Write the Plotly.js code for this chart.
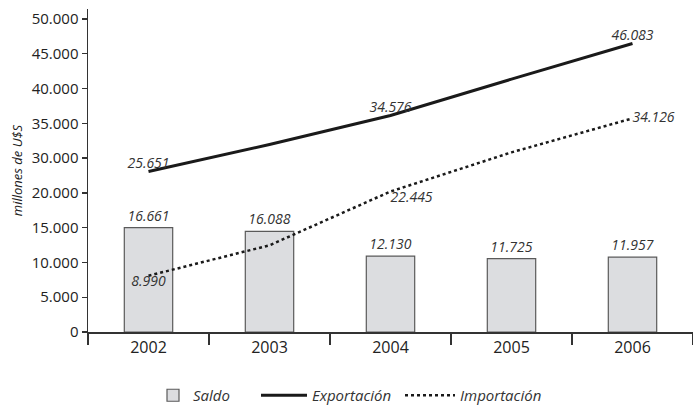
<!DOCTYPE html>
<html>
<head>
<meta charset="utf-8">
<script src="https://cdn.plot.ly/plotly-3.0.1.min.js"></script>
<style>html,body{margin:0;padding:0;background:#fff;}#chart{width:693px;height:412px;}</style>
</head>
<body>
<div id="chart"></div>
<script>
var years = ['2002', '2003', '2004', '2005', '2006'];
var saldo = [16661, 16088, 12130, 11725, 11957];
var saldoLabels = ['16.661', '16.088', '12.130', '11.725', '11.957'];
var exportacion = [25651, 29950, 34576, 40400, 46083];
var exportLabels = ['25.651', '', '34.576', '', '46.083'];
var importacion = [8990, 13850, 22445, 28700, 34126];
var importLabels = ['8.990', '', '22.445', '', '34.126'];
var yTickLabels = ['0', '5.000', '10.000', '15.000', '20.000', '30.000', '35.000', '40.000', '45.000', '50.000'];
var yTickValues = yTickLabels.map(function (_, i) { return i * 50000 / 9; });

var FONT = 'Open Sans, Noto Sans, sans-serif';
var labelFont = {family: FONT, size: 14, color: '#333', style: 'italic'};
var legendFont = {family: FONT, size: 15, color: '#333', style: 'italic'};

var traces = [
  {
    type: 'bar', name: 'Saldo', x: years, y: saldo, width: 0.4, legend: 'legend',
    marker: {color: '#dcdde0', line: {color: '#5a5a5a', width: 1.2}},
    text: saldoLabels, textposition: 'outside', constraintext: 'none', cliponaxis: false,
    textfont: labelFont, hoverinfo: 'skip'
  },
  {
    type: 'scatter', mode: 'lines+text', name: 'Exportación', x: years, y: exportacion, legend: 'legend2',
    line: {color: '#1a1a1a', width: 3},
    text: exportLabels,
    textposition: ['top center', 'top center', 'top center', 'top center', 'top center'],
    textfont: labelFont, cliponaxis: false, hoverinfo: 'skip'
  },
  {
    type: 'scatter', mode: 'lines+text', name: 'Importación', x: years, y: importacion, legend: 'legend3',
    line: {color: '#1a1a1a', width: 2.5, dash: 'dot'},
    text: importLabels,
    textposition: ['bottom center', 'bottom center', 'bottom right', 'middle right', 'middle right'],
    textfont: labelFont, cliponaxis: false, hoverinfo: 'skip'
  }
];

function legendAt(px, iw) {
  return {
    orientation: 'h', x: (px - 88) / 605, xanchor: 'left', y: -0.197, yanchor: 'middle',
    font: legendFont, itemwidth: iw, bgcolor: 'rgba(0,0,0,0)', borderwidth: 0
  };
}

var layout = {
  width: 693, height: 412,
  margin: {l: 88, r: 0, t: 9, b: 75},
  paper_bgcolor: '#fff', plot_bgcolor: '#fff',
  font: {family: FONT, color: '#222'},
  showlegend: true,
  legend: legendAt(153, 30),
  legend2: legendAt(256, 46),
  legend3: legendAt(400, 50),
  xaxis: {
    type: 'category', categoryarray: years, range: [-0.5, 4.5],
    tickson: 'boundaries', ticks: 'outside', ticklen: 11, tickwidth: 1.3, tickcolor: '#333',
    showline: true, linecolor: '#333', linewidth: 1.5,
    showgrid: false, zeroline: false,
    tickfont: {family: FONT, size: 16, color: '#222'}
  },
  yaxis: {
    range: [0, 51600],
    tickmode: 'array', tickvals: yTickValues, ticktext: yTickLabels,
    ticks: 'outside', ticklen: 5, tickwidth: 1.3, tickcolor: '#333',
    showline: true, linecolor: '#333', linewidth: 1.5,
    showgrid: false, zeroline: false,
    tickfont: {family: FONT, size: 15, color: '#222'},
    title: {text: 'millones de U$S', font: {family: FONT, size: 13, color: '#222', style: 'italic'}, standoff: 6}
  }
};

Plotly.newPlot('chart', traces, layout, {displayModeBar: false, staticPlot: true});
</script>
</body>
</html>
